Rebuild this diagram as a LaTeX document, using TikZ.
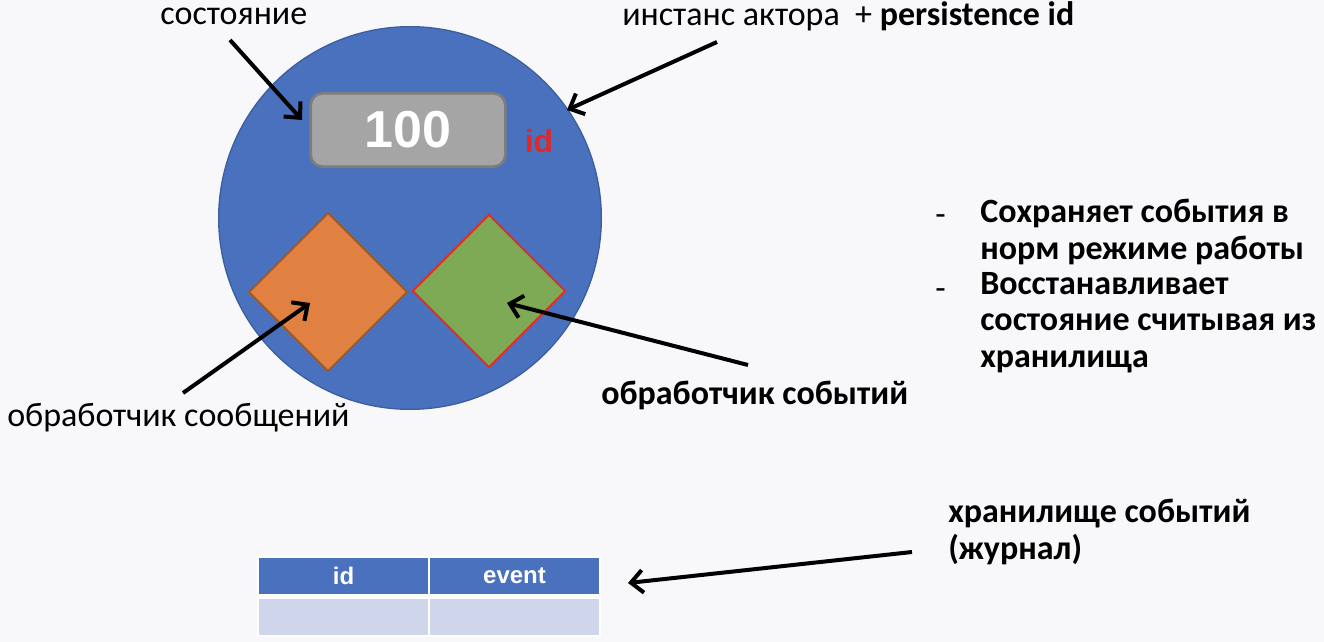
\documentclass[tikz,border=0pt]{standalone}
\usepackage{fontspec}
\setmainfont{Carlito}
\newfontfamily\arialf{Liberation Sans}
\usetikzlibrary{arrows.meta,shapes.geometric}
\definecolor{bgc}{RGB}{248,248,251}
\definecolor{bluec}{RGB}{73,113,190}
\definecolor{blueedge}{RGB}{60,95,160}
\definecolor{grayc}{RGB}{165,165,165}
\definecolor{grayedge}{RGB}{125,125,125}
\definecolor{orangec}{RGB}{224,129,66}
\definecolor{orangeedge}{RGB}{160,90,40}
\definecolor{greenc}{RGB}{126,170,86}
\definecolor{rededge}{RGB}{225,45,35}
\definecolor{idred}{RGB}{225,40,40}
\definecolor{rowc}{RGB}{207,213,234}
\definecolor{headc}{RGB}{73,113,190}
\begin{document}
\begin{tikzpicture}[x=0.75pt,y=-0.75pt,
  lbl/.style={inner sep=0pt,anchor=west,font=\fontsize{25.5}{27.3}\selectfont},
  blbl/.style={inner sep=0pt,anchor=west,font=\fontsize{25.5}{27.3}\selectfont\bfseries},
  pointer/.style={line width=3pt,-{Straight Barb[length=9pt,width=17pt,line width=3pt]}},
  tcell/.style={draw=white,line width=1.5pt,minimum width=128pt,minimum height=29pt,inner sep=0pt}]
\fill[bgc] (0,0) rectangle (1324,642);
\useasboundingbox (0,0) rectangle (1324,642);
% actor circle
\node (actor) [circle,fill=bluec,draw=blueedge,line width=1pt,minimum size=287pt,inner sep=0pt] at (410,218) {};
% state box
\node (state) [rounded corners=9pt,fill=grayc,draw=grayedge,line width=2pt,minimum width=146pt,minimum height=55pt,inner sep=0pt,text=white,font=\arialf\bfseries\fontsize{39}{40}\selectfont] at (408,130) {100};
\node (idtxt) [inner sep=0pt,text=idred,font=\arialf\bfseries\fontsize{24}{26}\selectfont] at (539,141) {id};
% diamonds
\node (msgh) [diamond,aspect=1,fill=orangec,draw=orangeedge,line width=1.5pt,minimum size=119pt,inner sep=0pt] at (328,292) {};
\node (evh) [diamond,aspect=1,fill=greenc,draw=rededge,line width=1.5pt,minimum size=115pt,inner sep=0pt] at (489,291) {};
% labels
\node (lstate) [lbl] at (160,16) {состояние};
\node (linst) [lbl] at (622,16) {инстанс актора\ \ + \textbf{persistence id}};
\node (lmsg) [lbl] at (7,418) {обработчик сообщений};
\node (lev) [blbl] at (601,395) {обработчик событий};
\node (dash1) [lbl] at (935,220) {-};
\node (b1) [blbl,align=left,anchor=north west] at (980,199) {Сохраняет события в\\норм режиме работы};
\node (dash2) [lbl] at (935,294) {-};
\node (b2) [blbl,align=left,anchor=north west] at (980,272) {Восстанавливает\\состояние считывая из\\хранилища};
\node (lstore) [blbl,align=left,anchor=north west] at (948,499) {хранилище событий\\(журнал)};
% table
\node (hid) [tcell,fill=headc,text=white,font=\arialf\bfseries\fontsize{18}{19}\selectfont] at (343.5,576) {id};
\node (hev) [tcell,fill=headc,text=white,font=\arialf\bfseries\fontsize{18}{19}\selectfont] at (514.5,576) {event};
\node (rid) [tcell,fill=rowc] at (343.5,617) {};
\node (rev) [tcell,fill=rowc] at (514.5,617) {};
% arrow endpoints
\coordinate (t1) at (230,40);
\coordinate (h1) at (302,120);
\coordinate (t2) at (717,42);
\coordinate (h2) at (567,110);
\coordinate (t3) at (183,393);
\coordinate (h3) at (310,303);
\coordinate (t4) at (748,365);
\coordinate (h4) at (507,303);
\coordinate (t5) at (912,552);
\coordinate (h5) at (628,583);
\draw[pointer] (t1) -- (h1);
\draw[pointer] (t2) -- (h2);
\draw[pointer] (t3) -- (h3);
\draw[pointer] (t4) -- (h4);
\draw[pointer] (t5) -- (h5);
\end{tikzpicture}
\end{document}
